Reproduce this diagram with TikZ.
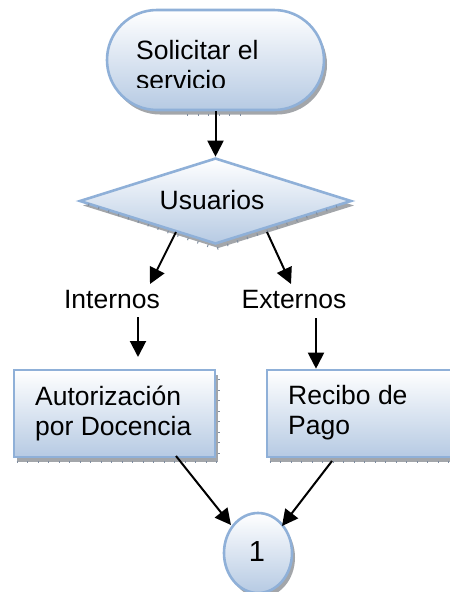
\documentclass[tikz,border=0pt]{standalone}
\usepackage{fontspec}
\setmainfont{Liberation Sans}
\usetikzlibrary{shapes.geometric,shapes.misc,shadows,arrows.meta,patterns}
\definecolor{edgeblue}{HTML}{8FB0D8}
\definecolor{fillbot}{HTML}{B6CAE3}
\definecolor{shadowgray}{HTML}{A3A6AA}
\definecolor{tickgray}{HTML}{7F8DA0}
\tikzset{
  x=1pt,y=-1pt,
  flowshape/.style={draw=edgeblue,line width=2.6pt,top color=white,bottom color=fillbot,inner sep=0pt,
    general shadow={shadow xshift=3pt,shadow yshift=-4.5pt,fill=shadowgray}},
  label text/.style={font=\fontsize{26.5}{30}\selectfont,inner sep=0pt,text=black},
  block text/.style={label text,align=left,anchor=north west},
  flow/.style={line width=2pt,-{Triangle[length=16pt,width=16pt]}},
  ticks/.style={draw=tickgray,line width=2.5pt,dash pattern=on 1pt off 9.5pt}
}
\begin{document}
\begin{tikzpicture}
\useasboundingbox (0,0) rectangle (450,592);
\clip (0,0) rectangle (450,592);
\node[flowshape,rounded rectangle,minimum width=217pt,minimum height=100pt] (term) at (215.5,60) {};
\node[flowshape,diamond,aspect=3.15,minimum width=272pt,minimum height=86pt] (dec) at (215.5,201) {};
\node[flowshape,rectangle,minimum width=201pt,minimum height=87pt] (auth) at (114.5,413.5) {};
\node[flowshape,rectangle,minimum width=200pt,minimum height=87pt] (pay) at (367,413.5) {};
\node[flowshape,ellipse,minimum width=68pt,minimum height=80pt] (one) at (258,553) {};
% tick marks on the shadows
\draw[ticks] ([shift={(30,3.5)}]term.south west) -- ([shift={(-28,3.5)}]term.south east);
\draw[ticks] ([shift={(10,3.5)}]dec.west) -- ([shift={(1,3.5)}]dec.south) -- ([shift={(-10,3.5)}]dec.east);
\draw[ticks] ([shift={(4,3.5)}]auth.south west) -- ([shift={(2.5,3.5)}]auth.south east) -- ([shift={(2.5,4)}]auth.north east);
\draw[ticks] ([shift={(4,3.5)}]pay.south west) -- ([shift={(2.5,3.5)}]pay.south east);
\begin{scope}
\clip (120,30) rectangle (300,87.5);
\node[block text] (termtext) at (136,40.5) {Solicitar el\\servicio};
\end{scope}
\node[label text] (dectext) at (212,200) {Usuarios};
\node[block text] (authtext) at (35,385.5) {Autorización\\por Docencia};
\node[block text] (paytext) at (288,385.5) {Recibo de\\Pago};
\node[label text,font=\fontsize{29}{30}\selectfont] (onetext) at (257,552) {1};
\node[label text] (int) at (112,300) {Internos};
\node[label text] (ext) at (294,300) {Externos};
\coordinate (dl) at (176,232);
\coordinate (dr) at (267,232);
\coordinate (intin) at (150,284);
\coordinate (extin) at (291,284);
\coordinate (intout) at (138,317);
\coordinate (intend) at (138,357);
\coordinate (extout) at (316,318);
\coordinate (authout) at (176,456);
\coordinate (payout) at (332,461);
\coordinate (onel) at (231,525);
\coordinate (oner) at (282,526);
\draw[flow] (term.south) -- (dec.north);
\draw[flow] (dl) -- (intin);
\draw[flow] (dr) -- (extin);
\draw[flow] (intout) -- (intend);
\draw[flow] (extout) -- (extout |- pay.north);
\draw[flow] (authout) -- (onel);
\draw[flow] (payout) -- (oner);
\end{tikzpicture}
\end{document}
